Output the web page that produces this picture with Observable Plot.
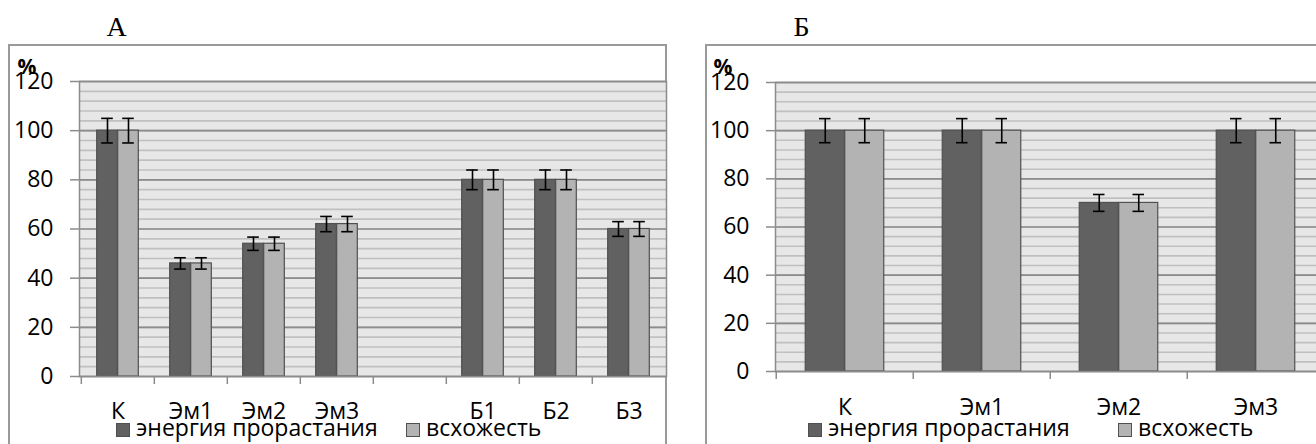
<!DOCTYPE html>
<html><head><meta charset="utf-8">
<script src="https://cdn.jsdelivr.net/npm/d3@7"></script>
<script src="https://cdn.jsdelivr.net/npm/@observablehq/plot@0.6"></script>
<style>
html,body{margin:0;padding:0;background:#fff;overflow:hidden;width:1316px;height:444px;}
#root{position:relative;width:1316px;height:444px;overflow:hidden;font-family:"Open Sans",sans-serif;}
.box{position:absolute;border:2px solid #9a9a9a;box-sizing:border-box;}
.wrap{position:absolute;top:0;height:444px;}
.wrap svg{display:block;overflow:visible;max-width:none !important;}
.lg{position:absolute;font-size:23px;line-height:23px;white-space:nowrap;color:#000;}
.sw{position:absolute;width:14px;height:14px;border:1.5px solid #505050;box-sizing:border-box;}
</style>
</head><body>
<div id="root">
  <div class="box" style="left:8px;top:44px;width:659px;height:420px;"></div>
  <div class="box" style="left:705px;top:44px;width:700px;height:420px;"></div>
  <div class="wrap" id="chartA" style="left:0px;width:667px;"></div>
  <div class="wrap" id="chartB" style="left:690px;width:645px;"></div>
  <div id="legendA"></div>
  <div id="legendB"></div>
</div>
<script>
// ---- data ----
const panelTitles = ["А", "Б"];
const yLabel = "%";
const seriesNames = ["энергия прорастания", "всхожесть"];
const seriesColors = ["#616161", "#b3b3b3"];
const yTicks = [0, 20, 40, 60, 80, 100, 120];

const categoriesA = ["К", "Эм1", "Эм2", "Эм3", " ", "Б1", "Б2", "Б3"];
const energyA = [100, 46, 54, 62, null, 80, 80, 60];
const germA = [100, 46, 54, 62, null, 80, 80, 60];
const errEnergyA = [5, 2.3, 2.7, 3.1, null, 4, 4, 3];
const errGermA = [5, 2.3, 2.7, 3.1, null, 4, 4, 3];

const categoriesB = ["К", "Эм1", "Эм2", "Эм3"];
const energyB = [100, 100, 70, 100];
const germB = [100, 100, 70, 100];
const errEnergyB = [5, 5, 3.5, 5];
const errGermB = [5, 5, 3.5, 5];

// ---- chart builder ----
function makeChart(o) {
  const plotW = o.width - o.mL - o.mR;
  const bw = plotW / o.cats.length;
  const half = bw / 2;
  const capIn = (bw - 12) / 2;
  const rows = o.cats.map((c, i) => ({c, v1: o.s1[i], v2: o.s2[i], e1: o.e1[i], e2: o.e2[i]}))
    .filter(d => d.v1 != null);
  const grid = d3.range(0, 121, 4);
  return Plot.plot({
    width: o.width, height: o.height,
    marginLeft: o.mL, marginRight: o.mR, marginTop: o.mT, marginBottom: o.mB,
    style: {fontFamily: '"Open Sans", sans-serif', fontSize: "23px", color: "#000", background: "transparent", overflow: "visible", maxWidth: "none"},
    x: {type: "band", domain: o.cats, padding: 0, axis: null, label: null},
    y: {domain: [0, 120], axis: null, label: null},
    marks: [
      Plot.frame({fill: "#e7e7e7", stroke: null}),
      Plot.ruleY(grid, {stroke: "#c0c0c0", strokeWidth: 1.6}),
      Plot.ruleY(yTicks, {stroke: "#8c8c8c", strokeWidth: 1.6}),
      Plot.barY(rows, {x: "c", y: "v1", fill: seriesColors[0], stroke: "#505050", strokeWidth: 1.2, insetLeft: half - o.barW, insetRight: half}),
      Plot.barY(rows, {x: "c", y: "v2", fill: seriesColors[1], stroke: "#505050", strokeWidth: 1.2, insetLeft: half, insetRight: half - o.barW}),
      Plot.ruleX(rows, {x: "c", y1: d => d.v1 - d.e1, y2: d => d.v1 + d.e1, dx: -o.barW / 2, stroke: "#000", strokeWidth: 1.6}),
      Plot.ruleX(rows, {x: "c", y1: d => d.v2 - d.e2, y2: d => d.v2 + d.e2, dx: o.barW / 2, stroke: "#000", strokeWidth: 1.6}),
      Plot.tickY(rows, {x: "c", y: d => d.v1 + d.e1, dx: -o.barW / 2, insetLeft: capIn, insetRight: capIn, stroke: "#000", strokeWidth: 1.6}),
      Plot.tickY(rows, {x: "c", y: d => d.v1 - d.e1, dx: -o.barW / 2, insetLeft: capIn, insetRight: capIn, stroke: "#000", strokeWidth: 1.6}),
      Plot.tickY(rows, {x: "c", y: d => d.v2 + d.e2, dx: o.barW / 2, insetLeft: capIn, insetRight: capIn, stroke: "#000", strokeWidth: 1.6}),
      Plot.tickY(rows, {x: "c", y: d => d.v2 - d.e2, dx: o.barW / 2, insetLeft: capIn, insetRight: capIn, stroke: "#000", strokeWidth: 1.6}),
      Plot.frame({stroke: "#8c8c8c", strokeWidth: 1.5}),
      Plot.axisY(yTicks, {tickSize: 9, tickPadding: o.yPad, stroke: "#8c8c8c", strokeWidth: 1.5, label: null}),
      Plot.axisX({tickSize: 8, dx: -half, tickFormat: () => "", stroke: "#8c8c8c", strokeWidth: 1.5, label: null}),
      Plot.axisX({tickSize: 0, tickPadding: o.xPad, label: null}),
      Plot.text([o.title], {frameAnchor: "top-left", dx: o.titleDx, dy: o.titleDy, textAnchor: "middle", lineAnchor: "middle", fontFamily: '"Liberation Serif", "Times New Roman", serif', fontSize: 28}),
      Plot.text([yLabel], {frameAnchor: "top-left", dx: o.pctDx, dy: o.pctDy, textAnchor: "start", lineAnchor: "middle", fontWeight: "bold", fontSize: 21})
    ]
  });
}

document.getElementById("chartA").appendChild(makeChart({
  cats: categoriesA, s1: energyA, s2: germA, e1: errEnergyA, e2: errGermA,
  width: 667, height: 444, mL: 79, mR: 1, mT: 81, mB: 68, barW: 21, yPad: 17, xPad: 26,
  title: panelTitles[0], titleDx: 37, titleDy: -54.5, pctDx: -62, pctDy: -14
}));
document.getElementById("chartB").appendChild(makeChart({
  cats: categoriesB, s1: energyB, s2: germB, e1: errEnergyB, e2: errGermB,
  width: 645, height: 444, mL: 85, mR: 10, mT: 82, mB: 73, barW: 39.5, yPad: 17, xPad: 27,
  title: panelTitles[1], titleDx: 26, titleDy: -55.5, pctDx: -62, pctDy: -15.5
}));

// ---- legends ----
function legend(id, pos) {
  const el = document.getElementById(id);
  seriesNames.forEach((name, i) => {
    const sw = document.createElement("div");
    sw.className = "sw";
    sw.style.left = pos[i][0] + "px";
    sw.style.top = "422.5px";
    sw.style.background = seriesColors[i];
    el.appendChild(sw);
    const t = document.createElement("div");
    t.className = "lg";
    t.style.left = pos[i][1] + "px";
    t.style.top = "416px";
    t.textContent = name;
    el.appendChild(t);
  });
}
legend("legendA", [[116, 136], [406, 426]]);
legend("legendB", [[808, 828], [1118, 1138]]);
</script>
</body></html>
